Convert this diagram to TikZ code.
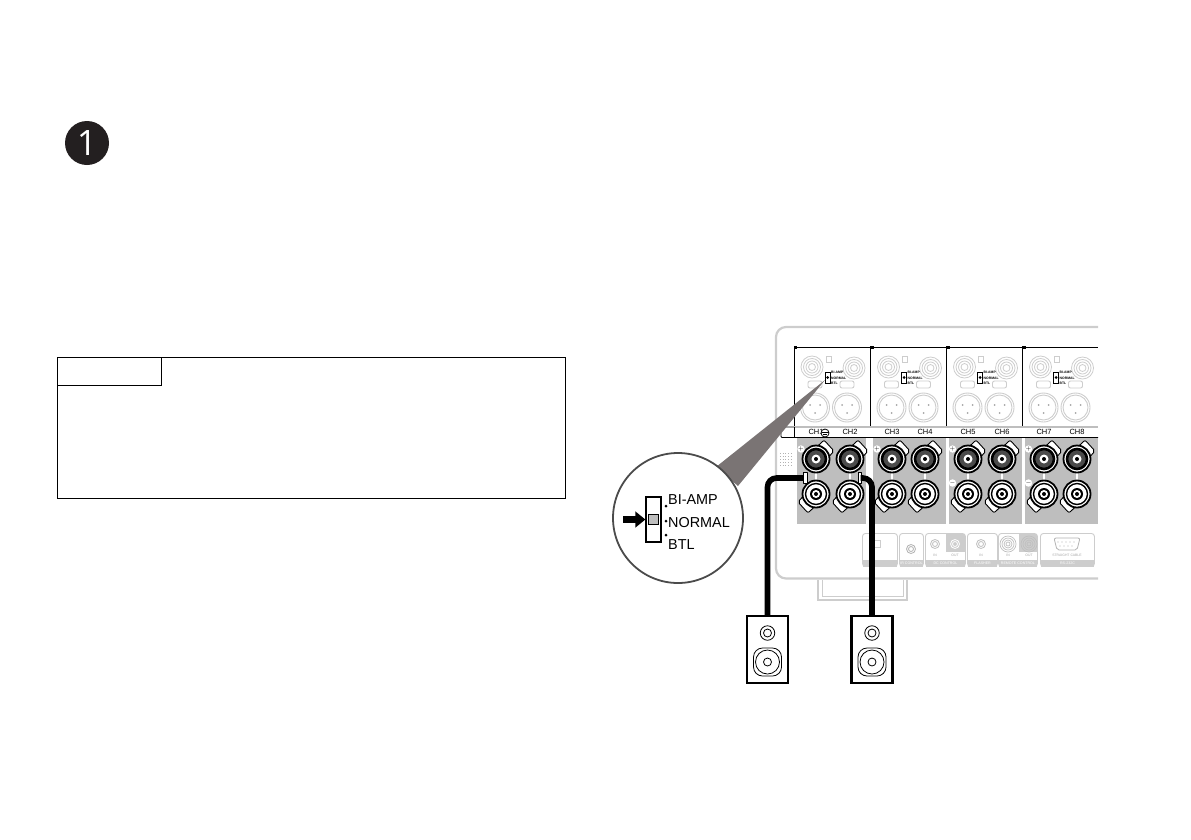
\documentclass[tikz,border=0pt]{standalone}
\usepackage{fontspec}
\setmainfont{Liberation Sans}
\newfontfamily\badgefont{Open Sans}
\usetikzlibrary{arrows.meta, positioning}
\definecolor{badgeblack}{RGB}{35,31,32}
\definecolor{panelgray}{RGB}{190,190,190}
\definecolor{wedgegray}{RGB}{122,116,116}
\definecolor{faintgray}{RGB}{205,205,205}
\definecolor{termgray}{RGB}{75,75,75}
\tikzstyle{note}     = [rectangle, draw=black, line width=0.9pt, inner sep=0pt]
\tikzstyle{chassis}  = [draw=faintgray, line width=2.2pt]
\tikzstyle{faint}    = [draw=faintgray, line width=0.9pt]
\tikzstyle{ring}     = [circle, draw=black, inner sep=0pt]
\tikzstyle{tab}      = [fill=white, draw=black, line width=0.9pt, line join=round, rounded corners=2pt]
\tikzstyle{chlabel}  = [font=\fontsize{7.5}{8}\selectfont, inner sep=0pt, text=black]
\tikzstyle{sockbox}  = [rectangle, rounded corners=3pt, draw=faintgray, line width=0.9pt, fill=white, inner sep=0pt, minimum height=33pt]
\tikzstyle{strip}    = [rectangle, fill=faintgray, inner sep=0pt, minimum height=7pt, text=white, font=\fontsize{3.6}{4}\selectfont]
\tikzstyle{cable}    = [line width=5.6pt, draw=black, rounded corners=9pt]
\tikzstyle{speaker}  = [rectangle, draw=black, line width=2.4pt, fill=white, minimum width=41pt, minimum height=67pt, inner sep=0pt]
\tikzstyle{callout}  = [font=\fontsize{14.4}{15}\selectfont, inner sep=0pt, anchor=base west]
\begin{document}
\begin{tikzpicture}[x=1pt, y=-1pt]
    \useasboundingbox (0,0) rectangle (1191,839);

    % step badge and note box
    \node (badge) [circle, fill=badgeblack, minimum size=44pt, inner sep=0pt, text=white, font=\badgefont\fontsize{35}{35}\selectfont] at (87,143) {1};
    \node (notebox) [note, minimum width=508pt, minimum height=141pt] at (311,427.5) {};
    \node (notetab) [note, minimum width=104pt, minimum height=28pt, anchor=north west] at (notebox.north west) {};

    % chassis
    \draw [chassis, rounded corners=10pt] (1098,327) -- (776,327) -- (776,578.5) -- (1098,578.5);
    \draw [faint, line width=1.6pt] (818,580) -- (818,600) -- (907,600) -- (907,580);
    \draw [faint, line width=1pt] (822,580) -- (822,596) -- (903,596) -- (903,580);

    % upper panels
    \foreach \px in {794,870.5,946.5,1022.5} {
        \begin{scope}[shift={(\px,0)}]
            \foreach \sx/\sy in {18/367,60/368} {
                \foreach \sr in {11,8.5,6,3.5} \draw [faint, line width=0.8pt] (\sx,\sy) circle (\sr pt);
            }
            \foreach \xx in {21,53} {
                \draw [faint] (\xx,407.5) circle (14.5pt);
                \draw [faint] (\xx,407.5) circle (12.5pt);
                \draw [faint, fill=white, rounded corners=2pt] (\xx-7,381) rectangle (\xx+7,388);
                \fill [gray!70] (\xx-5,405) circle (1pt) (\xx+5,405) circle (1pt) (\xx,413) circle (1pt);
            }
            \draw [faint, fill=white] (32,356) rectangle (37,362);
            \draw [draw=black, line width=1pt] (31,372) rectangle (36,383);
            \fill (33.5,377.5) circle (1.5pt);
            \node [inner sep=0pt, anchor=west, font=\fontsize{3.4}{4}\selectfont\bfseries] at (37,372.5) {BI-AMP};
            \node [inner sep=0pt, anchor=west, font=\fontsize{3.4}{4}\selectfont\bfseries] at (37,378) {NORMAL};
            \node [inner sep=0pt, anchor=west, font=\fontsize{3.4}{4}\selectfont\bfseries] at (37,383.5) {BTL};
            \draw [black, line width=0.9pt] (0,347) -- (0,427);
            \draw [black, line width=0.7pt, fill=white] (0,346) rectangle (2.5,348.5);
        \end{scope}
    }
    \draw [black, line width=0.9pt] (794,347) -- (1098,347);
    \draw [draw=panelgray, line width=1.6pt] (794,427) -- (1098,427);
    \draw [black, line width=0.9pt, rounded corners=1pt] (794,427) -- (781,427) -- (781,437.5) -- (1098,437.5);
    \draw [black, line width=0.9pt] (794,427) -- (794,437.5);
    \foreach \dy in {453,456,459,462,465} \draw [gray!60, dotted, line width=0.7pt] (780,\dy) -- (793,\dy);

    % speaker terminal fields
    \foreach \fx/\fw in {797/69,873/73,949/73,1025/73} {
        \fill [panelgray] (\fx,438) rectangle ++(\fw,86);
    }
    \foreach \i/\tx in {1/816,2/850,3/892,4/925,5/968,6/1002,7/1044,8/1077} {
        \node (ch\i) [chlabel] at (\tx,432) {CH\i};
        \fill [white] (\tx-1,472) rectangle (\tx+1,481);
        \draw [tab] (\tx+5.7,464.7) -- (\tx+18,451) -- (\tx+8,440) -- (\tx-5.7,453.3) -- cycle;
        \draw [tab] (\tx-5.7,488.3) -- (\tx-18,502) -- (\tx-8,513) -- (\tx+5.7,499.7) -- cycle;
        \node (t\i) [ring, line width=1.8pt, fill=white, minimum size=27pt] at (\tx,459) {};
        \node [ring, line width=2.6pt, fill=termgray, minimum size=20pt] at (t\i.center) {};
        \node [circle, fill=white, inner sep=0pt, minimum size=9pt] at (t\i.center) {};
        \node [circle, fill=black, inner sep=0pt, minimum size=4pt] at (t\i.center) {};
        \node (b\i) [ring, line width=1.8pt, fill=white, minimum size=27pt] at (\tx,494) {};
        \node [ring, line width=1.4pt, fill=white, minimum size=21pt] at (b\i.center) {};
        \node [circle, fill=black, inner sep=0pt, minimum size=12pt] at (b\i.center) {};
        \node [circle, fill=white, inner sep=0pt, minimum size=8pt] at (b\i.center) {};
        \node [circle, fill=black, inner sep=0pt, minimum size=4pt] at (b\i.center) {};
    }
    \foreach \sx/\sy/\sg in {801/449/+,877/449/+,952.5/449/+,1028.5/449/+,952.5/483/-,1028.5/483/-} {
        \node [circle, fill=white, inner sep=0pt, minimum size=5.5pt, font=\fontsize{6}{6}\selectfont\bfseries] at (\sx,\sy) {$\sg$};
    }
    % ground mark next to CH1
    \node (gnd) [circle, draw=black, fill=white, line width=0.8pt, inner sep=0pt, minimum size=8pt] at (825,433) {};
    \draw [black, line width=0.6pt] (821.5,432) -- (828.5,432) (823,434) -- (827,434);

    % lower sockets
    \foreach \nm/\xa/\xb in {sa/862/897,sb/899/923,sc/925/965,sd/967/997,se/998/1037,sf/1040/1094} {
        \node (\nm) [sockbox, minimum width={\xb-\xa}, anchor=north west] at (\xa,533) {};
        \node [strip, minimum width={\xb-\xa-1}, anchor=south] at (\nm.south) {};
    }
    \fill [faintgray] (946,534) rectangle (964.5,552);
    \fill [faintgray] (1019,534) rectangle (1036.5,552);
    \node [strip, fill=none, text=white, anchor=south] at (sb.south) {IR CONTROL};
    \node [strip, fill=none, anchor=south] at (sc.south) {DC CONTROL};
    \node [strip, fill=none, anchor=south] at (sd.south) {FLASHER};
    \node [strip, fill=none, anchor=south] at (se.south) {REMOTE CONTROL};
    \node [strip, fill=none, anchor=south] at (sf.south) {RS-232C};
    \draw [faint] (877,544) ++(-4,-4) rectangle ++(7,7);
    \foreach \cx/\cy/\cc in {911/549/gray!60,935/544/gray!50,955/544/white,981/544/gray!50} {
        \draw [draw=\cc, line width=0.8pt] (\cx,\cy) circle (4.5pt) (\cx,\cy) circle (2.5pt);
    }
    \foreach \cx in {1008,1029} {
        \foreach \cr in {8,6,4,2} \draw [draw=gray!50, line width=0.7pt] (\cx,544) circle (\cr pt);
    }
    \draw [draw=gray!60, line width=0.8pt, rounded corners=2pt] (1054,538) -- (1080,538) -- (1077,550) -- (1057,550) -- cycle;
    \foreach \dx in {1058,1062,1066,1070,1074} \fill [gray!60] (\dx,542) circle (0.7pt);
    \foreach \dx in {1060,1064,1068,1072} \fill [gray!60] (\dx,546) circle (0.7pt);
    \node [inner sep=0pt, text=gray!70, font=\fontsize{3.4}{4}\selectfont] at (1067,555) {STRAIGHT CABLE};
    \foreach \lx/\lt in {935/IN,955/OUT,981/IN,1008/IN,1029/OUT} {
        \node [inner sep=0pt, text=gray!70, font=\fontsize{3.4}{4}\selectfont] at (\lx,555) {\lt};
    }

    % magnifier
    \coordinate (tip) at (825,380);
    \fill [wedgegray] (716,467) -- (tip) -- (738,486) -- cycle;
    \node (lens) [circle, draw=termgray, line width=1.8pt, fill=white, minimum size=130pt, inner sep=0pt] at (678,518) {};
    \node (switch) [rectangle, draw=black, line width=1.2pt, fill=white, minimum width=15pt, minimum height=45pt, inner sep=0pt] at (653.5,519.5) {};
    \node (slider) [rectangle, draw=black, line width=1.1pt, fill=panelgray, minimum size=10pt, inner sep=0pt] at (switch.center) {};
    \coordinate (arrowstart) at (623,519.5);
    \draw [-{Triangle[length=10pt,width=15.5pt]}, line width=7pt, black] (arrowstart) -- (switch.west);
    \foreach \dy in {506,521,535} \fill (666,\dy) circle (1.5pt);
    \node (biamp)  [callout] at (668,504) {BI-AMP};
    \node (normal) [callout] at (668,527) {NORMAL};
    \node (btl)    [callout] at (668,549.5) {BTL};

    % speakers
    \node (spkL) [speaker] at (767.5,649.5) {};
    \node (spkR) [speaker] at (872,649.5) {};
    \foreach \spk in {spkL,spkR} {
        \node [ring, line width=0.8pt, minimum size=14.5pt, yshift=16.5pt] at (\spk.center) {};
        \node [ring, line width=0.8pt, minimum size=8pt, yshift=16.5pt] at (\spk.center) {};
        \node [rectangle, rounded corners=9pt, draw=black, line width=0.8pt, minimum size=28pt, inner sep=0pt, yshift=-12.5pt] at (\spk.center) {};
        \node [ring, line width=0.8pt, minimum size=24pt, yshift=-12.5pt] at (\spk.center) {};
        \node [ring, line width=0.8pt, minimum size=8pt, yshift=-12.5pt] at (\spk.center) {};
    }

    % cables with their jumpers
    \coordinate (jumpL) at (803.5,478);
    \coordinate (jumpR) at (860.5,478);
    \draw [tab, rounded corners=0pt] (803.5,472) rectangle (807.5,483);
    \draw [tab, rounded corners=0pt] (858,472) rectangle (861.5,483);
    \draw [cable] (jumpL) -| (spkL.north);
    \draw [cable] (jumpR) -| (spkR.north);
\end{tikzpicture}
\end{document}
